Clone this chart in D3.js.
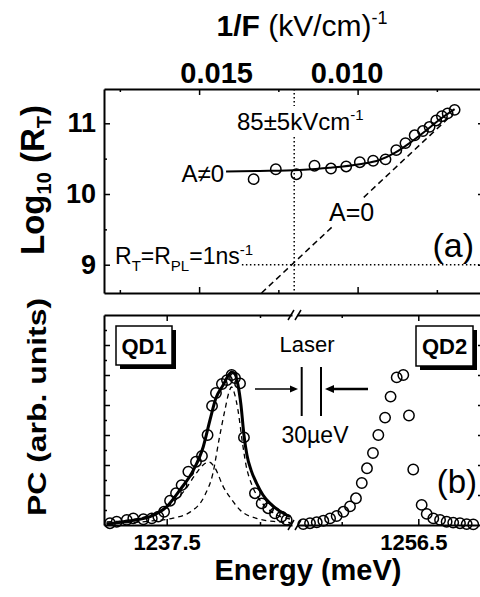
<!DOCTYPE html>
<html>
<head>
<meta charset="utf-8">
<script src="https://cdn.jsdelivr.net/npm/d3@7"></script>
<style>
  body { margin: 0; background: #fff; }
  svg { display: block; }
  text { font-family: "Liberation Sans", Arial, Helvetica, sans-serif; fill: #000; }
</style>
</head>
<body>
<div id="chart"></div>
<script>
// ---- panel (a): tunnelling rate vs inverse field ----
const invF  = [0.01328, 0.01258, 0.01193, 0.01136, 0.01084, 0.01036, 0.00993, 0.00951, 0.00912,
               0.00878, 0.00849, 0.00820, 0.00794, 0.00773, 0.00752, 0.00734, 0.00716, 0.00694];
const logRT = [10.21, 10.35, 10.28, 10.40, 10.36, 10.39, 10.45, 10.47, 10.49,
               10.62, 10.72, 10.83, 10.89, 10.95, 11.04, 11.10, 11.14, 11.19];
// A != 0 fit (solid)
const fitInvF  = [0.01415, 0.01309, 0.01183, 0.01088, 0.00994, 0.00931, 0.00883, 0.00836, 0.00789, 0.00742, 0.00694];
const fitLogRT = [10.318, 10.325, 10.34, 10.37, 10.42, 10.48, 10.58, 10.72, 10.88, 11.05, 11.20];
// A = 0 (dashed)
const zeroInvF  = [0.01303, 0.00700];
const zeroLogRT = [8.6, 11.13];
const fieldMark = 0.0120;   // 85 kV/cm
const rateMark = 9;         // R_T = R_PL = 1 ns^-1
const invFTicks = [0.015, 0.010];
const invFMinor = [0.0175, 0.0125, 0.0075];
const logTicks = [9, 10, 11];
const logMinor = [9.5, 10.5];

// ---- panel (b): photocurrent spectra ----
const qd1E  = [1237.196, 1237.232, 1237.286, 1237.321, 1237.375, 1237.420, 1237.455, 1237.486, 1237.518, 1237.550,
               1237.580, 1237.616, 1237.657, 1237.689, 1237.719, 1237.743, 1237.764, 1237.796, 1237.823, 1237.848,
               1237.866, 1237.893, 1237.914, 1237.973, 1238.009, 1238.044, 1238.080, 1238.116, 1238.143];
const qd1PC = [0.06, 0.11, 0.17, 0.22, 0.19, 0.22, 0.28, 0.44, 0.81, 1.06,
               1.33, 1.78, 2.11, 2.30, 3.00, 3.97, 4.40, 4.70, 4.83, 5.00,
               4.90, 4.72, 2.92, 1.06, 0.72, 0.56, 0.39, 0.28, 0.17];
const qd2E  = [1255.749, 1255.793, 1255.837, 1255.880, 1255.924, 1255.967, 1256.011, 1256.054, 1256.093, 1256.131,
               1256.165, 1256.204, 1256.239, 1256.283, 1256.319, 1256.359, 1256.402, 1256.439, 1256.467, 1256.522,
               1256.555, 1256.598, 1256.642, 1256.685, 1256.728, 1256.772, 1256.816, 1256.859];
const qd2PC = [0.03, 0.06, 0.09, 0.14, 0.22, 0.30, 0.44, 0.62, 0.89, 1.40,
               1.89, 2.40, 3.00, 3.58, 4.28, 4.92, 5.00, 3.65, 1.85, 0.67,
               0.37, 0.22, 0.17, 0.11, 0.08, 0.06, 0.03, 0.02];
// QD1 fit: total (solid) and the two components (dashed)
const fitE  = [1237.178, 1237.267, 1237.411, 1237.500, 1237.571, 1237.643, 1237.696, 1237.732, 1237.764, 1237.803,
               1237.829, 1237.848, 1237.866, 1237.882, 1237.898, 1237.914, 1237.930, 1237.952, 1237.982, 1238.016,
               1238.054, 1238.125, 1238.161];
const fitPC = [0.03, 0.11, 0.28, 0.61, 1.17, 1.83, 2.61, 3.50, 4.23, 4.67,
               4.97, 5.10, 5.03, 4.67, 4.00, 3.00, 2.33, 1.83, 1.39, 1.00,
               0.72, 0.39, 0.28];
const narrowE  = [1237.178, 1237.411, 1237.534, 1237.625, 1237.705, 1237.748, 1237.780, 1237.812, 1237.834,
                  1237.847, 1237.861, 1237.882, 1237.904, 1237.925, 1237.957, 1238.000, 1238.064, 1238.161];
const narrowPC = [0.05, 0.13, 0.23, 0.43, 1.00, 1.73, 2.83, 3.83, 4.43,
                  4.60, 4.43, 3.83, 2.83, 2.00, 1.33, 0.83, 0.43, 0.20];
const broadE  = [1237.178, 1237.357, 1237.464, 1237.528, 1237.598, 1237.652, 1237.695, 1237.727,
                 1237.759, 1237.803, 1237.850, 1237.893, 1237.982, 1238.090, 1238.161];
const broadPC = [0.10, 0.23, 0.47, 0.73, 1.17, 1.67, 2.00, 2.10,
                 1.90, 1.28, 0.83, 0.50, 0.22, 0.11, 0.08];
const energyTicks = [1237.5, 1256.5];
const energyMinor = [1238.0, 1256.0];
const pcTicks = [1, 2, 3, 4, 5, 6];
const pcMinor = [0.5, 1.5, 2.5, 3.5, 4.5, 5.5, 6.5];

const svg = d3.select("#chart").append("svg")
    .attr("width", 480)
    .attr("height", 597);

const left = 104, right = 484;
const aTop = 89, aBot = 293, bTop = 315, bBot = 525;
const breakL = 292, breakR = 297;

const xA = d3.scaleLinear().domain([0.018, 0.006013]).range([left, right]);
const yA = d3.scaleLinear().domain([8.6, 11.485]).range([aBot, aTop]);
const xL = d3.scaleLinear().domain([1237.164, 1238.1715]).range([left, breakL]);
const xR = d3.scaleLinear().domain([1255.708, 1256.929]).range([breakR, right]);
const yB = d3.scaleLinear().domain([0, 7]).range([bBot, bTop]);

function styleAxis(g, labelSize) {
    g.select(".domain").attr("stroke-width", 2);
    g.selectAll(".tick line").attr("stroke-width", 1.5);
    g.selectAll(".tick text")
        .style("font-family", '"Liberation Sans", Arial, sans-serif')
        .style("font-weight", "bold")
        .style("font-size", labelSize + "px");
}
function minorAxis(axis, tf) {
    svg.append("g").attr("transform", tf)
        .call(axis.tickSize(-3).tickFormat(""))
        .call(g => g.select(".domain").remove())
        .call(g => g.selectAll(".tick line").attr("stroke-width", 1.5));
}
// white patch behind a label so lines underneath are hidden
function clearBehind(t, pad) {
    const node = t.node(), b = node.getBBox();
    d3.select(node.parentNode).insert("rect", () => node)
        .attr("x", b.x - pad).attr("y", b.y).attr("width", b.width + 2 * pad).attr("height", b.height)
        .attr("fill", "#fff");
}

// ---------- panel (a) axes ----------
svg.append("g").attr("transform", `translate(0,${aTop})`)
    .call(d3.axisTop(xA).tickValues(invFTicks).tickSize(-6).tickSizeOuter(0).tickPadding(6).tickFormat(d3.format(".3f")))
    .call(g => styleAxis(g, 29))
    .call(g => g.selectAll(".tick text").attr("dx", d => d > 0.012 ? 17 : -11));
minorAxis(d3.axisTop(xA).tickValues(invFMinor), `translate(0,${aTop})`);
svg.append("g").attr("transform", `translate(0,${aBot})`)
    .call(d3.axisBottom(xA).tickValues(invFTicks).tickSize(-6).tickSizeOuter(0).tickFormat(""))
    .call(g => styleAxis(g, 22));
minorAxis(d3.axisBottom(xA).tickValues(invFMinor), `translate(0,${aBot})`);
svg.append("g").attr("transform", `translate(${left},0)`)
    .call(d3.axisLeft(yA).tickValues(logTicks).tickSize(-6).tickSizeOuter(0).tickPadding(8).tickFormat(d3.format("d")))
    .call(g => styleAxis(g, 27));
minorAxis(d3.axisLeft(yA).tickValues(logMinor), `translate(${left},0)`);
svg.append("g").attr("transform", `translate(${right},0)`)
    .call(d3.axisRight(yA).tickValues(logTicks).tickSize(-6).tickSizeOuter(0).tickFormat(""))
    .call(g => styleAxis(g, 22));
minorAxis(d3.axisRight(yA).tickValues(logMinor), `translate(${right},0)`);

// ---------- panel (a) marks ----------
svg.append("line")
    .attr("x1", xA(fieldMark)).attr("x2", xA(fieldMark))
    .attr("y1", aTop).attr("y2", aBot)
    .attr("stroke", "#000").attr("stroke-width", 1.5).attr("stroke-dasharray", "1.5,2.5");
svg.append("line")
    .attr("x1", xA(0.01365)).attr("x2", right)
    .attr("y1", yA(rateMark)).attr("y2", yA(rateMark))
    .attr("stroke", "#000").attr("stroke-width", 1.5).attr("stroke-dasharray", "1.5,2.5");

svg.append("path")
    .datum(d3.zip(zeroInvF, zeroLogRT))
    .attr("fill", "none").attr("stroke", "#000").attr("stroke-width", 1.5)
    .attr("stroke-dasharray", "6,4")
    .attr("d", d3.line().x(d => xA(d[0])).y(d => yA(d[1])));

svg.append("path")
    .datum(d3.zip(fitInvF, fitLogRT))
    .attr("fill", "none").attr("stroke", "#000").attr("stroke-width", 2)
    .attr("d", d3.line().curve(d3.curveMonotoneX).x(d => xA(d[0])).y(d => yA(d[1])));

svg.append("g")
    .selectAll("circle")
    .data(d3.zip(invF, logRT))
    .join("circle")
    .attr("cx", d => xA(d[0]))
    .attr("cy", d => yA(d[1]))
    .attr("r", 5.2)
    .attr("fill", "none").attr("stroke", "#000").attr("stroke-width", 1.5);

// ---------- panel (a) text ----------
const title = svg.append("text").attr("x", 302).attr("y", 36)
    .attr("text-anchor", "middle").style("font-size", "30px");
title.append("tspan").style("font-weight", "bold").text("1/F");
title.append("tspan").text(" (kV/cm)");
title.append("tspan").attr("dy", -12).style("font-size", "18px").text("-1");

svg.append("text")
    .attr("transform", "translate(44,180) rotate(-90)")
    .attr("text-anchor", "middle").style("font-size", "33px").style("font-weight", "bold")
    .call(t => {
        t.append("tspan").text("Log");
        t.append("tspan").attr("dy", 7).style("font-size", "20px").text("10");
        t.append("tspan").attr("dy", -7).text(" (R");
        t.append("tspan").attr("dy", 7).style("font-size", "20px").text("T");
        t.append("tspan").attr("dy", -7).text(")");
    });

const annot = svg.append("g").style("font-size", "24px");
annot.append("text").attr("x", 237).attr("y", 130)
    .call(t => {
        t.append("tspan").text("85±5kVcm");
        t.append("tspan").attr("dy", -10).style("font-size", "15px").text("-1");
    })
    .call(t => clearBehind(t, 1));
annot.append("text").attr("x", 224).attr("y", yA(10.28) + 8).attr("text-anchor", "end").text("A≠0");
annot.append("text").attr("x", 329).attr("y", 221).style("font-size", "25px").text("A=0")
    .call(t => clearBehind(t, 2));
annot.append("text").attr("x", 474).attr("y", 257).attr("text-anchor", "end").style("font-size", "34px").text("(a)");
annot.append("text").attr("x", 115).attr("y", 264).style("font-size", "23px")
    .call(t => {
        t.append("tspan").text("R");
        t.append("tspan").attr("dy", 7).style("font-size", "15px").text("T");
        t.append("tspan").attr("dy", -7).text("=R");
        t.append("tspan").attr("dy", 7).style("font-size", "15px").text("PL");
        t.append("tspan").attr("dy", -7).text("=1ns");
        t.append("tspan").attr("dy", -9).style("font-size", "15px").text("-1");
    });

// ---------- panel (b) axes ----------
for (const [sc, tick, minor] of [[xL, [energyTicks[0]], [energyMinor[0]]], [xR, [energyTicks[1]], [energyMinor[1]]]]) {
    svg.append("g").attr("transform", `translate(0,${bBot})`)
        .call(d3.axisBottom(sc).tickValues(tick).tickSize(-6).tickSizeOuter(0).tickPadding(9).tickFormat(d3.format(".1f")))
        .call(g => styleAxis(g, 22))
        .call(g => g.selectAll(".tick text").attr("dx", d => d > 1250 ? -5 : 0));
    minorAxis(d3.axisBottom(sc).tickValues(minor), `translate(0,${bBot})`);
    svg.append("g").attr("transform", `translate(0,${bTop})`)
        .call(d3.axisTop(sc).tickValues(tick).tickSize(-6).tickSizeOuter(0).tickFormat(""))
        .call(g => styleAxis(g, 22));
    minorAxis(d3.axisTop(sc).tickValues(minor), `translate(0,${bTop})`);
}
svg.append("g").attr("transform", `translate(${left},0)`)
    .call(d3.axisLeft(yB).tickValues(pcTicks).tickSize(-6).tickSizeOuter(0).tickFormat(""))
    .call(g => styleAxis(g, 22));
minorAxis(d3.axisLeft(yB).tickValues(pcMinor), `translate(${left},0)`);
svg.append("g").attr("transform", `translate(${right},0)`)
    .call(d3.axisRight(yB).tickValues(pcTicks).tickSize(-6).tickSizeOuter(0).tickFormat(""))
    .call(g => styleAxis(g, 22));
minorAxis(d3.axisRight(yB).tickValues(pcMinor), `translate(${right},0)`);

// axis break marks
for (const y of [bTop, bBot]) {
    for (const x of [breakL - 1, breakR + 1]) {
        svg.append("line")
            .attr("x1", x - 3).attr("y1", y + 5).attr("x2", x + 3).attr("y2", y - 5)
            .attr("stroke", "#000").attr("stroke-width", 1.5);
    }
}

// ---------- panel (b) marks ----------
const lineL = d3.line().curve(d3.curveMonotoneX).x(d => xL(d[0])).y(d => yB(d[1]));
svg.append("path").datum(d3.zip(narrowE, narrowPC))
    .attr("fill", "none").attr("stroke", "#000").attr("stroke-width", 1.3)
    .attr("stroke-dasharray", "5,4").attr("d", lineL);
svg.append("path").datum(d3.zip(broadE, broadPC))
    .attr("fill", "none").attr("stroke", "#000").attr("stroke-width", 1.3)
    .attr("stroke-dasharray", "5,4").attr("d", lineL);
svg.append("path").datum(d3.zip(fitE, fitPC))
    .attr("fill", "none").attr("stroke", "#000").attr("stroke-width", 3).attr("d", lineL);

svg.append("g").selectAll("circle")
    .data(d3.zip(qd1E, qd1PC))
    .join("circle")
    .attr("cx", d => xL(d[0])).attr("cy", d => yB(d[1])).attr("r", 5.2)
    .attr("fill", "none").attr("stroke", "#000").attr("stroke-width", 1.5);
svg.append("g").selectAll("circle")
    .data(d3.zip(qd2E, qd2PC))
    .join("circle")
    .attr("cx", d => xR(d[0])).attr("cy", d => yB(d[1])).attr("r", 5.2)
    .attr("fill", "none").attr("stroke", "#000").attr("stroke-width", 1.5);

// ---------- panel (b) text ----------
function labelBox(x, y, w, h, txt) {
    svg.append("rect").attr("x", x + 4).attr("y", y + 4).attr("width", w).attr("height", h).attr("fill", "#000");
    svg.append("rect").attr("x", x).attr("y", y).attr("width", w).attr("height", h)
        .attr("fill", "#fff").attr("stroke", "#000").attr("stroke-width", 1.5);
    svg.append("text").attr("x", x + w / 2).attr("y", y + h / 2 + 8)
        .attr("text-anchor", "middle").style("font-size", "22px").style("font-weight", "bold").text(txt);
}
labelBox(116, 326, 56, 39, "QD1");
labelBox(416, 326, 57, 40, "QD2");

const bText = svg.append("g").style("font-size", "22px");
bText.append("text").attr("x", 307).attr("y", 352).attr("text-anchor", "middle").text("Laser");
bText.append("text").attr("x", 315).attr("y", 443).attr("text-anchor", "middle").style("font-size", "23px").text("30µeV");
bText.append("text").attr("x", 477).attr("y", 493).attr("text-anchor", "end").style("font-size", "33px").text("(b)");

// laser lines and arrows
for (const x of [301.7, 321]) {
    svg.append("line").attr("x1", x).attr("x2", x).attr("y1", 367).attr("y2", 416)
        .attr("stroke", "#000").attr("stroke-width", 2);
}
svg.append("line").attr("x1", 255).attr("x2", 292).attr("y1", 389).attr("y2", 389)
    .attr("stroke", "#000").attr("stroke-width", 1.5);
svg.append("path").attr("d", "M298,389 L290,385.5 L290,392.5 Z").attr("fill", "#000");
svg.append("line").attr("x1", 332).attr("x2", 368).attr("y1", 389).attr("y2", 389)
    .attr("stroke", "#000").attr("stroke-width", 2.5);
svg.append("path").attr("d", "M325,389 L334,385 L334,393 Z").attr("fill", "#000");

svg.append("text")
    .attr("transform", "translate(46,407) rotate(-90)")
    .attr("text-anchor", "middle").style("font-size", "26px").style("font-weight", "bold")
    .attr("textLength", 218).attr("lengthAdjust", "spacingAndGlyphs")
    .text("PC (arb. units)");

svg.append("text").attr("x", 308).attr("y", 580)
    .attr("text-anchor", "middle").style("font-size", "29px").style("font-weight", "bold")
    .text("Energy (meV)");
</script>
</body>
</html>
